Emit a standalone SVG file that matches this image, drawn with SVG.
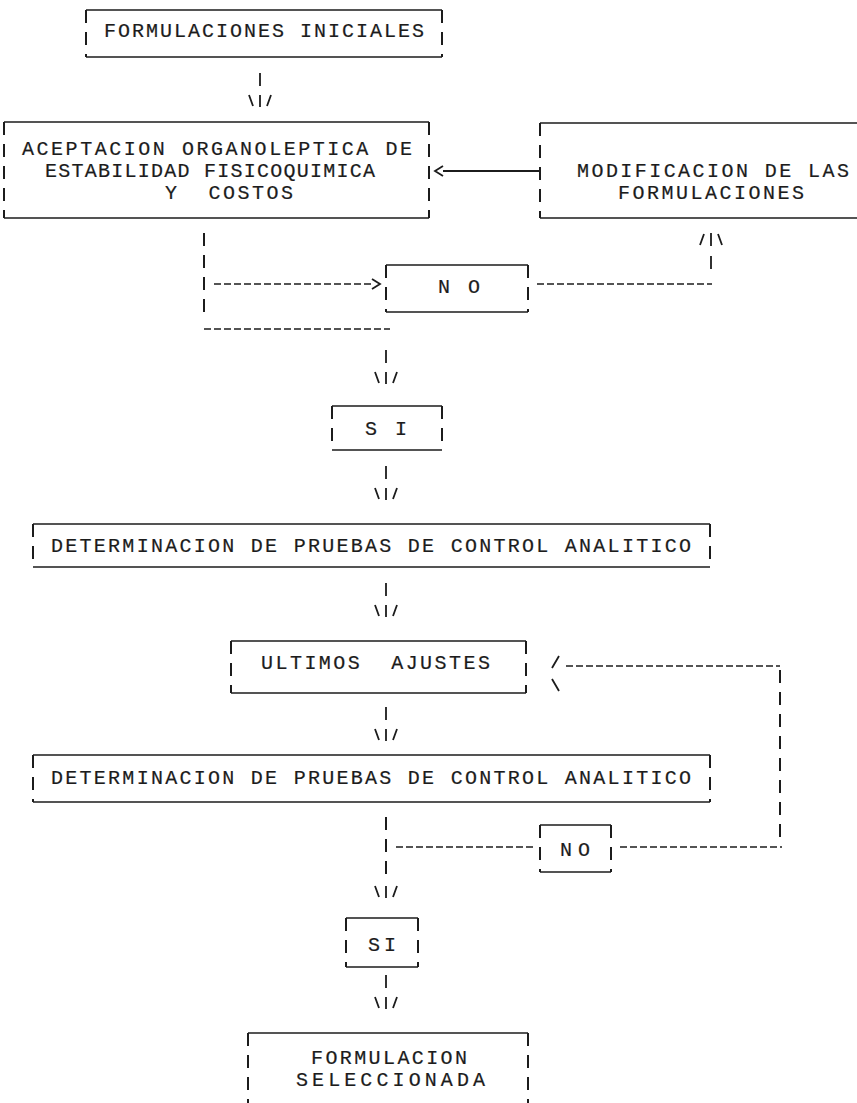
<svg xmlns="http://www.w3.org/2000/svg" xmlns:xlink="http://www.w3.org/1999/xlink" width="857" height="1103" viewBox="0 0 857 1103">
  <defs>
    <style>
      .t{font-family:"Liberation Mono","DejaVu Sans Mono",monospace;font-size:20px;fill:#1c1c1c;stroke:#1c1c1c;stroke-width:0.2}
      .edge{stroke:#1c1c1c;stroke-width:1.7;fill:none}
      .side{stroke:#1c1c1c;stroke-width:2;fill:none;stroke-dasharray:13 9}
      .dash{stroke:#1c1c1c;stroke-width:1.7;fill:none;stroke-dasharray:7 3}
      .ln{stroke:#1c1c1c;stroke-width:1.8;fill:none}
    </style>
    <!-- printed "|" over "\|/" : downward arrow, origin at the column top -->
    <g id="down" class="ln">
      <path d="M0 0V13M0 22V34M-11 22L-7 33M11 22L7 33"/>
    </g>
    <!-- printed "/|\" over "|" : upward arrow -->
    <g id="up" class="ln">
      <path d="M0 0V13M0 23V36M-11 12L-7 1M11 12L7 1"/>
    </g>
  </defs>
  <rect width="857" height="1103" fill="#fff"/>

  <g id="formulaciones-iniciales">
    <path class="edge" d="M86 10H442M86 57H442"/>
    <path class="side" d="M86 10V57M442 10V57"/>
    <text class="t" x="104" y="37" textLength="320" lengthAdjust="spacing">FORMULACIONES INICIALES</text>
  </g>

  <g id="aceptacion">
    <path class="edge" d="M4 122H429M4 218H429"/>
    <path class="side" d="M4 122V218M429 122V218"/>
    <text class="t" x="22" y="155" textLength="390" lengthAdjust="spacing">ACEPTACION ORGANOLEPTICA DE</text>
    <text class="t" x="45" y="177" textLength="330" lengthAdjust="spacing">ESTABILIDAD FISICOQUIMICA</text>
    <text class="t" x="165" y="199" xml:space="preserve" textLength="128" lengthAdjust="spacing">Y  COSTOS</text>
  </g>

  <g id="modificacion">
    <path class="edge" d="M540 123H857M540 218H857"/>
    <path class="side" d="M540 123V218"/>
    <text class="t" x="577" y="177" textLength="272" lengthAdjust="spacing">MODIFICACION DE LAS</text>
    <text class="t" x="618" y="199" textLength="186" lengthAdjust="spacing">FORMULACIONES</text>
  </g>

  <g id="no-1">
    <path class="edge" d="M386 265H528M386 312H528"/>
    <path class="side" d="M386 265V312M528 265V312"/>
    <text class="t" x="438" y="293" xml:space="preserve" textLength="42" lengthAdjust="spacing">N O</text>
  </g>

  <g id="si-1">
    <path class="edge" d="M332 406H442M332 450H442"/>
    <path class="side" d="M332 406V450M442 406V450"/>
    <text class="t" x="365" y="435" xml:space="preserve" textLength="42" lengthAdjust="spacing">S I</text>
  </g>

  <g id="determinacion-1">
    <path class="edge" d="M33 524H710M33 567H710"/>
    <path class="side" d="M33 524V567M710 524V567"/>
    <text class="t" x="51" y="552" textLength="640" lengthAdjust="spacing">DETERMINACION DE PRUEBAS DE CONTROL ANALITICO</text>
  </g>

  <g id="ultimos-ajustes">
    <path class="edge" d="M231 641H526M231 693H526"/>
    <path class="side" d="M231 641V693M526 641V693"/>
    <text class="t" x="261" y="669" xml:space="preserve" textLength="229" lengthAdjust="spacing">ULTIMOS  AJUSTES</text>
  </g>

  <g id="determinacion-2">
    <path class="edge" d="M33 755H710M33 802H710"/>
    <path class="side" d="M33 755V802M710 755V802"/>
    <text class="t" x="51" y="784" textLength="640" lengthAdjust="spacing">DETERMINACION DE PRUEBAS DE CONTROL ANALITICO</text>
  </g>

  <g id="no-2">
    <path class="edge" d="M540 825H611M540 872H611"/>
    <path class="side" d="M540 825V872M611 825V872"/>
    <text class="t" x="560" y="856" textLength="30" lengthAdjust="spacing">NO</text>
  </g>

  <g id="si-2">
    <path class="edge" d="M346 918H418M346 967H418"/>
    <path class="side" d="M346 918V967M418 918V967"/>
    <text class="t" x="368" y="951" textLength="28" lengthAdjust="spacing">SI</text>
  </g>

  <g id="formulacion-seleccionada">
    <path class="edge" d="M248 1033H528"/>
    <path class="side" d="M248 1033V1103M528 1033V1103"/>
    <text class="t" x="311" y="1064" textLength="156" lengthAdjust="spacing">FORMULACION</text>
    <text class="t" x="296" y="1086" textLength="189" lengthAdjust="spacing">SELECCIONADA</text>
  </g>

  <g id="connectors">
    <use xlink:href="#down" x="260" y="73"/>
    <!-- feedback from MODIFICACION back into ACEPTACION -->
    <path class="ln" d="M443 171H540M443 166L435 171L443 176"/>
    <!-- split below ACEPTACION -->
    <path class="side" d="M204 233V312"/>
    <path class="dash" d="M214 284H372"/>
    <path class="ln" d="M372 279L380 284L372 289"/>
    <path class="dash" d="M537 284H712"/>
    <use xlink:href="#up" x="711" y="233"/>
    <path class="dash" d="M204 329H390"/>
    <use xlink:href="#down" x="386" y="350"/>
    <use xlink:href="#down" x="386" y="466"/>
    <use xlink:href="#down" x="386" y="583"/>
    <!-- loop back to ULTIMOS AJUSTES -->
    <path class="ln" d="M552 668L559 656M552 679L559 691"/>
    <path class="dash" d="M566 666H780"/>
    <path class="side" d="M780 670V838"/>
    <use xlink:href="#down" x="386" y="707"/>
    <path class="side" d="M386 817V874"/>
    <path class="dash" d="M396 847H534"/>
    <path class="dash" d="M620 847H782"/>
    <path class="ln" d="M375 886L379 897M397 886L393 897M386 886V898"/>
    <use xlink:href="#down" x="386" y="975"/>
  </g>
</svg>
